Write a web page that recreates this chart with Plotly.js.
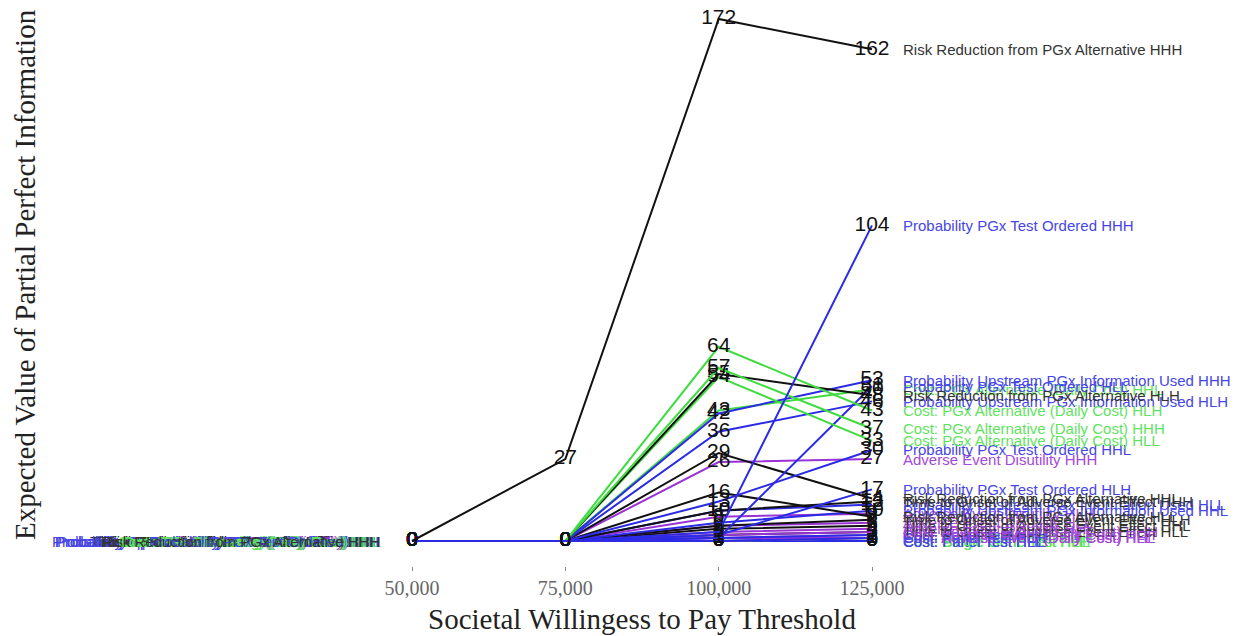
<!DOCTYPE html>
<html>
<head>
<meta charset="utf-8">
<script src="https://cdn.plot.ly/plotly-3.0.1.min.js"></script>
<style>html,body{margin:0;padding:0;background:#fff;}#chart{width:1249px;height:636px;}</style>
</head>
<body>
<div id="chart"></div>
<script>
// ---- data ----
const wtpThresholds = [50000, 75000, 100000, 125000];
const tickLabels = ['50,000', '75,000', '100,000', '125,000'];
const scenarios = ['HHH', 'HLH', 'HLL', 'HHL'];
const parameters = [
  'Risk Reduction from PGx Alternative',
  'Probability PGx Test Ordered',
  'Probability Upstream PGx Information Used',
  'Cost: PGx Alternative (Daily Cost)',
  'Adverse Event Disutility',
  'Time to Onset of Adverse Event Effect',
  'Cost: Single Gene Test',
  'Cost: Adverse Event (Daily Cost)',
  'Cost: Panel Test'
];
// EVPPI values per scenario (HHH, HLH, HLL, HHL) for each parameter
const riskReduction      = [[0, 27, 172, 162], [0, 0, 55, 48], [0, 0, 16, 8],  [0, 0, 29, 14]];
const probTestOrdered    = [[0, 0, 3, 104],    [0, 0, 2, 17],  [0, 0, 1, 51],  [0, 0, 13, 30]];
const probUpstreamUsed   = [[0, 0, 42, 53],    [0, 0, 36, 46], [0, 0, 10, 12], [0, 0, 6, 10]];
const costAlternative    = [[0, 0, 57, 37],    [0, 0, 64, 43], [0, 0, 54, 33], [0, 0, 43, 50]];
const aeDisutility       = [[0, 0, 26, 27],    [0, 0, 8, 9],   [0, 0, 5, 6],   [0, 0, 3, 4]];
const timeToOnset        = [[0, 0, 10, 13],    [0, 0, 5, 7],   [0, 0, 2, 3],   [0, 0, 4, 5]];
const costSingleGene     = [[0, 0, 0, 1],      [0, 0, 0, 0],   [0, 0, 0, 0],   [0, 0, 0, 0]];
const costAdverseEvent   = [[0, 0, 2, 3],      [0, 0, 1, 2],   [0, 0, 1, 1],   [0, 0, 0, 1]];
const costPanelTest      = [[0, 0, 1, 2],      [0, 0, 0, 1],   [0, 0, 0, 0],   [0, 0, 0, 0]];
const valuesByParameter = [riskReduction, probTestOrdered, probUpstreamUsed, costAlternative,
  aeDisutility, timeToOnset, costSingleGene, costAdverseEvent, costPanelTest];

// ---- styles ----
const groupOf = ['black', 'blue', 'blue', 'green', 'purple', 'black', 'green', 'purple', 'blue'];
const lineColor = {black: '#111111', blue: '#2b2be6', green: '#3fdc3f', purple: '#9a33d6'};
const labelColor = {black: '#333333', blue: '#4646e6', green: '#5fe35f', purple: '#a448dc'};

const traces = [];
const annotations = [];
const order = [];
parameters.forEach((p, pi) => scenarios.forEach((s, si) => order.push([pi, si])));
order.sort((a, b) => Math.max(...valuesByParameter[a[0]][a[1]]) - Math.max(...valuesByParameter[b[0]][b[1]]));

order.forEach(([pi, si]) => {
  const ys = valuesByParameter[pi][si];
  const name = parameters[pi] + ' ' + scenarios[si];
  const g = groupOf[pi];
  traces.push({
    type: 'scatter', mode: 'lines+text', x: wtpThresholds, y: ys, name: name,
    line: {color: lineColor[g], width: 2},
    text: ys.map(v => String(v)), textposition: 'middle center',
    textfont: {family: 'Liberation Sans, Arial, sans-serif', size: 21, color: '#111'},
    hoverinfo: 'name+y', cliponaxis: false, showlegend: false
  });
  annotations.push({
    x: wtpThresholds[wtpThresholds.length - 1], y: ys[ys.length - 1], xref: 'x', yref: 'y',
    text: name, showarrow: false, xanchor: 'left', yanchor: 'middle', xshift: 29,
    font: {family: 'Liberation Sans, Arial, sans-serif', size: 15, color: labelColor[g]}
  });
  annotations.push({
    x: wtpThresholds[0], y: ys[0], xref: 'x', yref: 'y',
    text: name, showarrow: false, xanchor: 'right', yanchor: 'middle', xshift: -30,
    font: {family: 'Liberation Sans, Arial, sans-serif', size: 15, color: labelColor[g]}
  });
});

annotations.push({
  xref: 'paper', yref: 'paper', x: 642 / 1249, y: (566 - 619) / 566, yanchor: 'middle', xanchor: 'center',
  text: 'Societal Willingess to Pay Threshold', showarrow: false,
  font: {family: 'Liberation Serif, Times New Roman, serif', size: 29, color: '#222'}
});
annotations.push({
  xref: 'paper', yref: 'paper', x: 25 / 1249, y: (566 - 275) / 566, xanchor: 'center', yanchor: 'middle',
  text: 'Expected Value of Partial Perfect Information', showarrow: false, textangle: -90,
  font: {family: 'Liberation Serif, Times New Roman, serif', size: 29, color: '#222'}
});

const pxPerUnitX = 460 / 75000;
const layout = {
  width: 1249, height: 636,
  margin: {l: 0, r: 0, t: 0, b: 70},
  paper_bgcolor: '#ffffff', plot_bgcolor: '#ffffff',
  xaxis: {
    range: [50000 - 412 / pxPerUnitX, 125000 + (1249 - 872) / pxPerUnitX],
    tickvals: wtpThresholds, ticktext: tickLabels,
    ticks: 'outside', ticklen: 4, tickcolor: '#888', tickwidth: 1,
    tickfont: {family: 'Liberation Serif, Times New Roman, serif', size: 20, color: '#666'},
    showgrid: false, zeroline: false, showline: false
  },
  yaxis: {
    range: [(541 - 566) / 3.035, 541 / 3.035],
    showticklabels: false, ticks: '', showgrid: false, zeroline: false, showline: false
  },
  annotations: annotations,
  showlegend: false
};
Plotly.newPlot('chart', traces, layout, {displayModeBar: false, staticPlot: true});
</script>
</body>
</html>
